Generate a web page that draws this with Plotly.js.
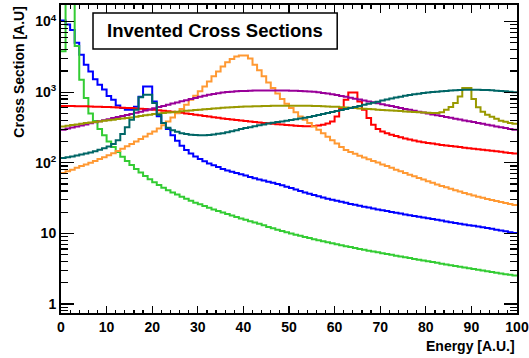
<!DOCTYPE html>
<html><head><meta charset="utf-8">
<script src="https://cdn.plot.ly/plotly-3.0.1.min.js"></script>
<style>html,body{margin:0;padding:0;background:#fff;}#chart{width:529px;height:358px;}</style>
</head><body><div id="chart"></div>
<script>
// bin low edges (100 bins of width 1) plus the upper edge of the last bin
const binEdges = [0,1,2,3,4,5,6,7,8,9,10,11,12,13,14,15,16,17,18,19,20,21,22,23,24,25,26,27,28,29,30,31,32,33,34,35,36,37,38,39,40,41,42,43,44,45,46,47,48,49,50,51,52,53,54,55,56,57,58,59,60,61,62,63,64,65,66,67,68,69,70,71,72,73,74,75,76,77,78,79,80,81,82,83,84,85,86,87,88,89,90,91,92,93,94,95,96,97,98,99,100];

const blueXS = [10400,9060,7600,5000,3400,2450,1970,1530,1280,1090,880,780,650,595,565,565,620,860,1200,1200,740,455,366,300,245,205,175,152,136,123,113,105,98,92,87,82,78,75,72,69,66,63,60.5,58,56,54,52,50,48,46,44,42,40,38,36.5,35,33.6,32.3,31.1,30,29,28,27.1,26.2,25.4,24.6,23.9,23.2,22.5,21.9,21.3,20.7,20.1,19.6,19.1,18.6,18.1,17.6,17.2,16.8,16.4,16.0,15.6,15.2,14.8,14.4,14.0,13.7,13.4,13.1,12.8,12.5,12.2,11.9,11.6,11.3,11.0,10.7,10.4,10.1];

const greenXS = [3800,30000,30000,4500,1500,830,500,390,300,245,200,168,142,122,106,93,82,73,65,58.5,53,48.5,44.5,41,38,35.5,33,31,29,27.3,25.8,24.4,23.1,21.9,20.8,19.8,18.8,17.9,17.1,16.3,15.6,14.9,14.3,13.7,13.1,12.3,11.8,11.3,10.8,10.4,10.0,9.6,9.25,8.9,8.6,8.3,8.0,7.75,7.5,7.25,7.0,6.8,6.6,6.4,6.2,6.0,5.85,5.7,5.55,5.4,5.25,5.1,4.97,4.84,4.72,4.6,4.48,4.36,4.25,4.14,4.03,3.93,3.83,3.73,3.64,3.55,3.46,3.38,3.3,3.22,3.14,3.06,2.99,2.92,2.85,2.78,2.71,2.65,2.59,2.53];

const redXS = [640,638,636,634,632,630,627,624,621,618,615,611,607,603,599,595,589,583,577,571,565,556,547,538,529,520,510,500,490,480,470,461,452,443,434,425,418,411,404,397,390,384,378,373,367,362,357,353,349,344,340,336,332,330,330,333,338,346,360,385,454,596,783,993,993,741,565,430,346,300,278,262,250,240,230,221,214,207,201,196,191,187,183,179,176,173,170,167,164,161,158,155.5,153,150.5,148,145.5,143,140.5,138,135.5];

const orangeXS = [72,76,80,85,90,95,100,106,113,120,128,137,147,158,171,185,200,218,236,258,278,305,340,385,440,505,578,664,783,890,1028,1200,1420,1676,1970,2320,2650,2950,3200,3300,3300,3000,2450,2040,1676,1370,1150,955,800,687,596,520,454,407,366,327,293,262,234,209,187,167,152,142,134,126,119,112,106,101,95,90,85,80,76,72,68,64.5,61,58,55,52,49.5,47,45,43,41,39.2,37.5,36,34.5,33.2,32,30.8,29.7,28.7,27.8,26.9,26.1,25.3];

const purpleXS = [295,305,316,327,338,350,362,375,388,401,415,430,445,460,477,493,511,530,550,571,593,616,640,665,690,716,743,771,800,830,860,890,920,945,968,988,1005,1018,1028,1036,1043,1049,1053,1056,1058,1060,1060,1060,1058,1055,1052,1048,1043,1035,1025,1012,995,975,955,932,910,885,860,835,810,786,762,740,718,697,676,656,636,616,597,580,563,546,530,514,499,485,472,459,446,434,422,410,399,388,377,367,357,347,337,328,319,310,302,294];

const oliveXS = [327,334,342,349,357,365,372,379,386,393,400,408,416,424,432,440,450,460,470,480,490,498,506,514,522,530,537,544,551,558,565,572,579,586,593,600,605,610,615,620,625,628,631,634,637,640,641,642,643,644,645,644,643,642,641,640,636,632,628,624,620,614,608,602,596,590,584,578,572,566,560,555,550,545,540,535,530,526,521,517,512,508,508,520,565,617,703,870,1150,1150,800,610,530,480,450,420,395,380,367,358];

const tealXS = [117,120,123,127,131,135,140,146,153,161,170,185,208,255,320,407,565,850,922,922,703,480,366,315,290,275,263,255,250,247,245,246,248,252,257,263,270,280,290,300,310,320,330,340,350,360,368,377,386,395,405,415,425,436,447,460,475,490,506,523,540,558,577,597,618,640,662,685,709,734,760,786,812,838,864,890,912,933,953,972,990,1005,1019,1032,1044,1055,1065,1073,1080,1084,1085,1083,1078,1071,1062,1052,1041,1029,1016,1000];

const seriesList = [
  {name:'blue',   values: blueXS,   color:'#0000ff'},
  {name:'green',  values: greenXS,  color:'#33cc33'},
  {name:'red',    values: redXS,    color:'#ff0000'},
  {name:'orange', values: orangeXS, color:'#ff9933'},
  {name:'purple', values: purpleXS, color:'#990099'},
  {name:'olive',  values: oliveXS,  color:'#999900'},
  {name:'teal',   values: tealXS,   color:'#006666'}
];

const yMajorVals = [1,10,100,1000,10000];
const yMajorText = ['1','10','10<sup>2</sup>','10<sup>3</sup>','10<sup>4</sup>'];
const yMinorVals = [0.8,0.9,2,3,4,5,6,7,8,9,20,30,40,50,60,70,80,90,200,300,400,500,600,700,800,900,2000,3000,4000,5000,6000,7000,8000,9000];
const xTickVals = [0,10,20,30,40,50,60,70,80,90,100];
const xTickText = ['0','10','20','30','40','50','60','70','80','90','100'];

const traces = seriesList.map(s => ({
  x: binEdges,
  y: s.values.concat([s.values[s.values.length-1]]),
  type:'scatter', mode:'lines', name:s.name,
  line:{shape:'hv', color:s.color, width:2},
  hoverinfo:'skip'
}));

const FONT = 'Liberation Sans, Arial, Helvetica, sans-serif';

const layout = {
  width:529, height:358,
  margin:{l:61, r:12, t:5, b:45, pad:0},
  paper_bgcolor:'#fff', plot_bgcolor:'#fff',
  showlegend:false,
  font:{family:FONT, size:14, color:'#000', weight:'bold'},
  xaxis:{
    type:'linear', range:[0,100],
    tickmode:'array', tickvals:xTickVals, ticktext:xTickText,
    ticks:'inside', ticklen:7.5, tickwidth:1.2, tickcolor:'#000',
    minor:{dtick:2, tick0:0, ticks:'inside', ticklen:3.5, tickwidth:1.2, tickcolor:'#000', showgrid:false},
    showline:true, linewidth:2, linecolor:'#000', mirror:'ticks',
    showgrid:false, zeroline:false,
    tickfont:{family:FONT, size:14, color:'#000', weight:'bold'}
  },
  yaxis:{
    type:'log', range:[-0.127, 4.235],
    tickmode:'array', tickvals:yMajorVals, ticktext:yMajorText,
    ticks:'inside', ticklen:13, tickwidth:1.2, tickcolor:'#000',
    minor:{tickmode:'array', tickvals:yMinorVals, ticks:'inside', ticklen:7, tickwidth:1.2, tickcolor:'#000', showgrid:false},
    showline:true, linewidth:2, linecolor:'#000', mirror:'ticks',
    showgrid:false, zeroline:false,
    tickfont:{family:FONT, size:14, color:'#000', weight:'bold'}
  },
  shapes:[
    {type:'rect', xref:'paper', yref:'paper', x0:0.0702, x1:0.6057, y0:0.857, y1:0.974,
     line:{color:'#000', width:1.5}, fillcolor:'#fff', layer:'above'}
  ],
  annotations:[
    {text:'<b>Invented Cross Sections</b>', xref:'paper', yref:'paper', x:0.338, y:0.9156,
     xanchor:'center', yanchor:'middle', showarrow:false,
     font:{family:FONT, size:18.5, color:'#000'}},
    {text:'<b>Energy [A.U.]</b>', xref:'paper', yref:'paper', x:1.0, y:-0.075,
     xanchor:'right', yanchor:'top', showarrow:false,
     font:{family:FONT, size:14, color:'#000'}},
    {text:'<b>Cross Section [A.U]</b>', xref:'paper', yref:'paper', x:-0.094, y:1.0,
     xanchor:'center', yanchor:'top', textangle:-90, showarrow:false,
     font:{family:FONT, size:14, color:'#000'}}
  ]
};

Plotly.newPlot('chart', traces, layout, {displayModeBar:false, staticPlot:true});
</script>
</body></html>
